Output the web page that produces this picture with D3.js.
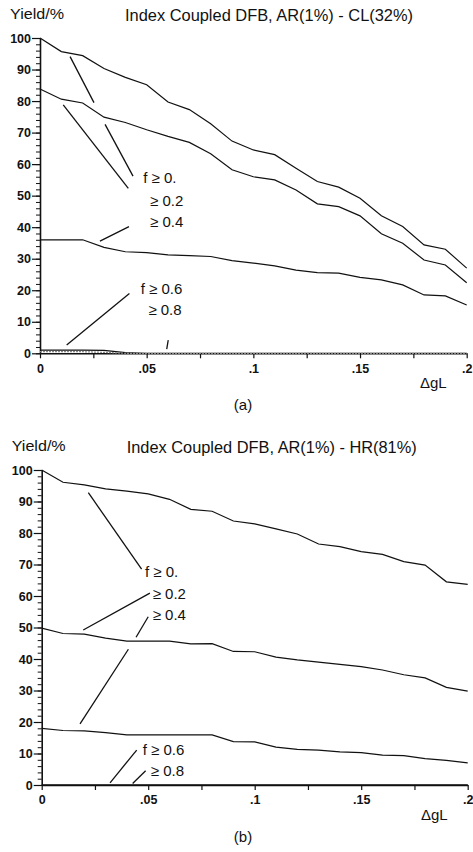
<!DOCTYPE html>
<html>
<head>
<meta charset="utf-8">
<script src="https://cdn.jsdelivr.net/npm/d3@7"></script>
<style>
  body { margin: 0; background: #fff; }
  svg { display: block; }
  text { font-family: "Liberation Sans", Arial, sans-serif; fill: #111; }
</style>
</head>
<body>
<div id="chart"></div>
<script>
// dgL steps, shared by both panels
const dgL = d3.range(21).map(i => i / 100);

// panel (a): AR(1%) - CL(32%)
const clF0  = [100, 95.7, 94.4, 90.3, 87.5, 85.2, 79.7, 77.3, 72.8, 67.3, 64.5, 63, 58.7, 54.5, 52.7, 49.2, 43.6, 40.2, 34.4, 33, 27];
const clF02 = [83.8, 80.6, 79.4, 74.9, 73.2, 70.9, 68.8, 66.9, 63.3, 58.2, 56, 55, 51.8, 47.4, 46.5, 43.6, 37.9, 34.9, 29.6, 28, 22.4];
const clF04 = [36, 36, 36, 33.6, 32.2, 31.9, 31.2, 31, 30.7, 29.4, 28.6, 27.7, 26.4, 25.6, 25.4, 24.1, 23.3, 21.7, 18.5, 18.2, 15.3];
const clF06 = [1, 1, 1, 0.9, 0.2, 0, 0, 0, 0, 0, 0, 0, 0, 0, 0, 0, 0, 0, 0, 0, 0];
const clF08 = [0.5, 0.5, 0.5, 0.3, 0, 0, 0, 0, 0, 0, 0, 0, 0, 0, 0, 0, 0, 0, 0, 0, 0];

// panel (b): AR(1%) - HR(81%)
const hrF0  = [100, 96.1, 95.3, 94, 93.3, 92.4, 90.7, 87.5, 86.9, 83.8, 82.9, 81.3, 79.7, 76.5, 75.7, 74.1, 73.2, 70.9, 69.8, 64.5, 63.7];
const hrF02 = [49.8, 48.1, 47.9, 46.6, 45.7, 45.7, 45.7, 44.8, 44.9, 42.4, 42.3, 40.6, 39.7, 39, 38.3, 37.6, 36.5, 35, 34, 31, 29.8];
const hrF04 = [18, 17.3, 17.2, 16.6, 15.9, 15.9, 15.9, 15.9, 15.9, 13.8, 13.7, 12, 11.3, 11.1, 10.5, 10.3, 9.5, 9.3, 8.4, 7.8, 7];
const hrF06 = dgL.map(() => 0);
const hrF08 = dgL.map(() => 0);

const xTickLabels = ["0", ".05", ".1", ".15", ".2"];
const yTickLabels = d3.range(0, 101, 10);

// curve labels and their pointer lines, in data units [dgL, yield]
const labelsA = [
  { t: "f \u2265 0.", at: [0.0484, 53.9] },
  { t: "\u2265 0.2", at: [0.0516, 46.7] },
  { t: "\u2265 0.4", at: [0.0516, 40.15] },
  { t: "f \u2265 0.6", at: [0.0472, 18.7] },
  { t: "\u2265 0.8", at: [0.0508, 12.15] }
];
const pointersA = [
  [[0.0141, 94.1], [0.0253, 79.5]],
  [[0.0305, 72.6], [0.0436, 56.2]],
  [[0.0109, 78.8], [0.0414, 52.3]],
  [[0.0281, 35.6], [0.0417, 40.2]],
  [[0.0125, 2.6], [0.0419, 19.0]],
  [[0.0594, 1.3], [0.0601, 4.2]]
];
const labelsB = [
  { t: "f \u2265 0.", at: [0.0485, 66.1] },
  { t: "\u2265 0.2", at: [0.0521, 58.95] },
  { t: "\u2265 0.4", at: [0.0521, 52.4] },
  { t: "f \u2265 0.6", at: [0.0474, 9.5] },
  { t: "\u2265 0.8", at: [0.0512, 2.95] }
];
const pointersB = [
  [[0.0219, 92.8], [0.0469, 68.5]],
  [[0.0195, 49.2], [0.0508, 60.9]],
  [[0.018, 19.4], [0.0407, 43.1]],
  [[0.0443, 46.9], [0.05, 53.4]],
  [[0.0321, 0.7], [0.0446, 11.1]],
  [[0.0427, 0.5], [0.0488, 4.5]]
];

const svg = d3.select("#chart").append("svg")
  .attr("width", 473)
  .attr("height", 852);

function drawPanel(p) {
  const g = svg.append("g");
  const x = d3.scaleLinear().domain([0, 0.2]).range([p.left, p.right]);
  const y = d3.scaleLinear().domain([0, 100]).range([p.bottom, p.top]);

  // y axis: majors every 10 with labels, minors every 2
  g.append("g")
    .attr("transform", `translate(${p.left},0)`)
    .call(d3.axisLeft(y).tickValues(d3.range(0, 101, 2)).tickSize(4).tickFormat(""))
    .call(a => a.select(".domain").remove())
    .call(a => a.selectAll("line").attr("stroke", "#111").attr("stroke-width", 1));
  g.append("g")
    .attr("transform", `translate(${p.left},0)`)
    .call(d3.axisLeft(y).tickValues(yTickLabels).tickSize(8).tickPadding(1).tickSizeOuter(0))
    .call(a => a.select(".domain").attr("stroke", "#111").attr("stroke-width", 1.6))
    .call(a => a.selectAll("line").attr("stroke", "#111").attr("stroke-width", 1.2))
    .call(a => a.selectAll("text")
      .attr("font-family", "'Liberation Sans', Arial, sans-serif")
      .attr("font-size", 12.5).attr("font-weight", "bold").attr("fill", "#111"));

  // x axis: ticks every .025, labels every .05
  g.append("g")
    .attr("transform", `translate(0,${p.bottom})`)
    .call(d3.axisBottom(x).tickValues(d3.range(0, 0.2001, 0.025)).tickSize(5).tickSizeOuter(0)
      .tickFormat(d => {
        const i = Math.round(d / 0.05);
        return Math.abs(d - i * 0.05) < 1e-6 ? xTickLabels[i] : "";
      }))
    .call(a => a.select(".domain").attr("stroke", "#111").attr("stroke-width", 1.4))
    .call(a => a.selectAll("line").attr("stroke", "#111").attr("stroke-width", 1.2))
    .call(a => a.selectAll("text")
      .attr("font-family", "'Liberation Sans', Arial, sans-serif")
      .attr("font-size", 12.5).attr("font-weight", "bold").attr("fill", "#111")
      .attr("dy", "0.9em"));

  const line = d3.line().x((d, i) => x(dgL[i])).y(d => y(d));
  p.series.forEach(s => {
    g.append("path")
      .datum(s.values)
      .attr("d", line)
      .attr("fill", "none")
      .attr("stroke", s.color || "#111")
      .attr("stroke-width", 1.2)
      .attr("stroke-dasharray", s.dash || null);
  });

  g.selectAll("line.pointer")
    .data(p.pointers)
    .enter().append("line")
    .attr("class", "pointer")
    .attr("x1", d => x(d[0][0])).attr("y1", d => y(d[0][1]))
    .attr("x2", d => x(d[1][0])).attr("y2", d => y(d[1][1]))
    .attr("stroke", "#111")
    .attr("stroke-width", 1.3);

  g.selectAll("text.flabel")
    .data(p.labels)
    .enter().append("text")
    .attr("class", "flabel")
    .attr("x", d => x(d.at[0]))
    .attr("y", d => y(d.at[1]))
    .attr("font-size", 15)
    .text(d => d.t);

  g.append("text")
    .attr("x", p.left - 30).attr("y", p.top - 19)
    .attr("font-size", 15)
    .attr("textLength", 54).attr("lengthAdjust", "spacingAndGlyphs")
    .text("Yield/%");
  g.append("text")
    .attr("x", p.left + 85).attr("y", p.top - 17)
    .attr("font-size", 16)
    .attr("textLength", p.titleWidth).attr("lengthAdjust", "spacingAndGlyphs")
    .text(p.title);
  g.append("text")
    .attr("x", p.right - 20).attr("y", p.bottom + 35)
    .attr("text-anchor", "end")
    .attr("font-size", 15)
    .text("\u0394gL");
  g.append("text")
    .attr("x", 243).attr("y", p.bottom + 57)
    .attr("text-anchor", "middle")
    .attr("font-family", "'Liberation Serif', 'Times New Roman', serif")
    .attr("font-size", 15)
    .text(p.caption);
}

drawPanel({
  left: 40, right: 466.7, top: 38, bottom: 353.3,
  title: "Index Coupled DFB, AR(1%) - CL(32%)",
  titleWidth: 288,
  caption: "(a)",
  series: [
    { values: clF0 }, { values: clF02 }, { values: clF04 },
    { values: clF06 }, { values: clF08, color: "#888", dash: "2,1" }
  ],
  pointers: pointersA,
  labels: labelsA
});

drawPanel({
  left: 41.7, right: 467.7, top: 470, bottom: 785,
  title: "Index Coupled DFB, AR(1%) - HR(81%)",
  titleWidth: 290,
  caption: "(b)",
  series: [
    { values: hrF0 }, { values: hrF02 }, { values: hrF04 },
    { values: hrF06 }, { values: hrF08 }
  ],
  pointers: pointersB,
  labels: labelsB
});
</script>
</body>
</html>
